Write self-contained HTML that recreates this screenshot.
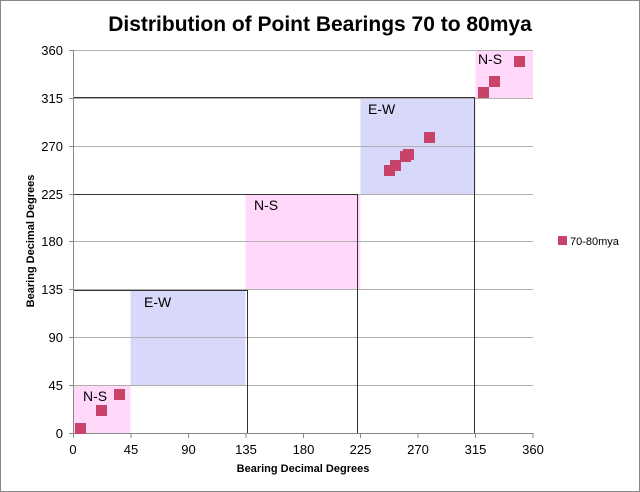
<!DOCTYPE html>
<html><head><meta charset="utf-8"><style>
body{margin:0;background:#fff;}
svg{display:block;font-family:"Liberation Sans",sans-serif;}
</style></head><body>
<svg width="640" height="492" viewBox="0 0 640 492">
<rect x="0.5" y="0.5" width="639" height="491" fill="#fff" stroke="#888"/>
<text x="320" y="31" text-anchor="middle" font-size="21" font-weight="bold" fill="#000">Distribution of Point Bearings 70 to 80mya</text>
<!-- boxes -->
<g>
<rect x="73" y="385" width="57.5" height="48" fill="#ffd8fa"/>
<rect x="130.5" y="289" width="115" height="96" fill="#d8d8fa"/>
<rect x="245.5" y="194" width="115" height="95" fill="#ffd8fa"/>
<rect x="360.5" y="98" width="115" height="96" fill="#d8d8fa"/>
<rect x="475.5" y="50" width="57.5" height="48" fill="#ffd8fa"/>
</g>
<!-- grid -->
<g stroke="#b0b0b0" stroke-width="1">
<line x1="73" y1="385.5" x2="533" y2="385.5"/>
<line x1="73" y1="337.5" x2="533" y2="337.5"/>
<line x1="73" y1="289.5" x2="533" y2="289.5"/>
<line x1="73" y1="241.5" x2="533" y2="241.5"/>
<line x1="73" y1="194.5" x2="533" y2="194.5"/>
<line x1="73" y1="146.5" x2="533" y2="146.5"/>
<line x1="73" y1="98.5" x2="533" y2="98.5"/>
<line x1="73" y1="50.5" x2="533" y2="50.5"/>
</g>
<!-- step lines -->
<g stroke="#333" stroke-width="1" fill="none">
<polyline points="73,290.5 247.5,290.5 247.5,433"/>
<polyline points="73,194.5 357.5,194.5 357.5,433"/>
<polyline points="73,97.5 474.5,97.5 474.5,433"/>
</g>
<!-- axes -->
<g stroke="#888" stroke-width="1">
<line x1="73.5" y1="50" x2="73.5" y2="433"/>
<line x1="73" y1="433.5" x2="533" y2="433.5"/>
<line x1="69" y1="433.5" x2="73" y2="433.5"/><line x1="69" y1="385.5" x2="73" y2="385.5"/><line x1="69" y1="337.5" x2="73" y2="337.5"/><line x1="69" y1="289.5" x2="73" y2="289.5"/><line x1="69" y1="241.5" x2="73" y2="241.5"/><line x1="69" y1="194.5" x2="73" y2="194.5"/><line x1="69" y1="146.5" x2="73" y2="146.5"/><line x1="69" y1="98.5" x2="73" y2="98.5"/><line x1="69" y1="50.5" x2="73" y2="50.5"/>
<line x1="73.5" y1="433" x2="73.5" y2="438"/><line x1="131" y1="433" x2="131" y2="438"/><line x1="188.5" y1="433" x2="188.5" y2="438"/><line x1="246" y1="433" x2="246" y2="438"/><line x1="303.5" y1="433" x2="303.5" y2="438"/><line x1="360.5" y1="433" x2="360.5" y2="438"/><line x1="418" y1="433" x2="418" y2="438"/><line x1="475.5" y1="433" x2="475.5" y2="438"/><line x1="533" y1="433" x2="533" y2="438"/>
</g>
<g font-size="13" fill="#000" text-anchor="end">
<text x="63" y="438">0</text><text x="63" y="390">45</text><text x="63" y="342">90</text><text x="63" y="294">135</text><text x="63" y="246">180</text><text x="63" y="199">225</text><text x="63" y="151">270</text><text x="63" y="103">315</text><text x="63" y="55">360</text>
</g>
<g font-size="13" fill="#000" text-anchor="middle">
<text x="73" y="454">0</text><text x="131" y="454">45</text><text x="188.5" y="454">90</text><text x="246" y="454">135</text><text x="303.5" y="454">180</text><text x="360.5" y="454">225</text><text x="418" y="454">270</text><text x="475.5" y="454">315</text><text x="533" y="454">360</text>
</g>
<text x="303" y="472" text-anchor="middle" font-size="11" font-weight="bold">Bearing Decimal Degrees</text>
<text transform="translate(34,241) rotate(-90)" text-anchor="middle" font-size="11" font-weight="bold">Bearing Decimal Degrees</text>
<g font-size="14" fill="#000">
<text x="83" y="401">N-S</text>
<text x="144" y="307">E-W</text>
<text x="254" y="210">N-S</text>
<text x="368" y="114">E-W</text>
<text x="478" y="64">N-S</text>
</g>
<g fill="#c8436a">
<rect x="75" y="423" width="11" height="11"/>
<rect x="96" y="405" width="11" height="11"/>
<rect x="114" y="389" width="11" height="11"/>
<rect x="384" y="165" width="11" height="11"/>
<rect x="390" y="160" width="11" height="11"/>
<rect x="400" y="151" width="11" height="11"/>
<rect x="403" y="149" width="11" height="11"/>
<rect x="424" y="132" width="11" height="11"/>
<rect x="478" y="87" width="11" height="11"/>
<rect x="489" y="76" width="11" height="11"/>
<rect x="514" y="56" width="11" height="11"/>
<rect x="558" y="236" width="9" height="9"/>
</g>
<text x="570" y="245" font-size="11">70-80mya</text>
</svg>
</body></html>
